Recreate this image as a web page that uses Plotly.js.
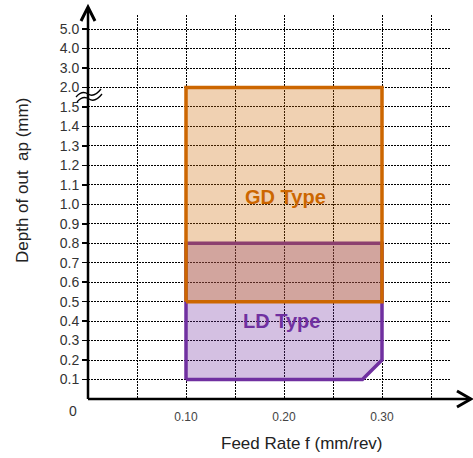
<!DOCTYPE html>
<html>
<head>
<meta charset="utf-8">
<script src="https://cdn.plot.ly/plotly-3.0.1.min.js"></script>
<style>html,body{margin:0;padding:0;background:#fff;}#chart{width:473px;height:458px;}</style>
</head>
<body>
<div id="chart"></div>
<script>
// ---- data ----
const yTickValues = [0.1,0.2,0.3,0.4,0.5,0.6,0.7,0.8,0.9,1.0,1.1,1.2,1.3,1.4,1.5,2.0,3.0,4.0,5.0];
const yTickLabels = ["0.1","0.2","0.3","0.4","0.5","0.6","0.7","0.8","0.9","1.0","1.1","1.2","1.3","1.4","1.5","2.0","3.0","4.0","5.0"];
const xTickValues = [0.05,0.10,0.15,0.20,0.25,0.30,0.35];
const xTickLabels = ["","0.10","","0.20","","0.30",""];
const ldFeed  = [0.10, 0.28, 0.30, 0.30, 0.10, 0.10];
const ldDepth = [0.1,  0.1,  0.2,  0.8,  0.8,  0.1];
const gdFeed  = [0.10, 0.30, 0.30, 0.10, 0.10];
const gdDepth = [0.5,  0.5,  2.0,  2.0,  0.5];

// broken y scale: each tick is one equal step
const tickPos = yTickValues.map((v,i)=>i+1);
function depthToPos(v){
  const vals=[0].concat(yTickValues), pos=[0].concat(tickPos);
  for(let i=0;i<vals.length-1;i++){
    if(v>=vals[i] && v<=vals[i+1]) return pos[i]+(v-vals[i])/(vals[i+1]-vals[i])*(pos[i+1]-pos[i]);
  }
  return pos[pos.length-1];
}

// ---- geometry helpers (pixel -> paper) ----
const L=88, R=450, T=15, B=399, PW=R-L, PH=B-T;
const XR=PW/980, YR=PH/19.47;
const fx = p => (p-L)/PW, fy = p => (B-p)/PH;
function pathPx(cmds){
  return cmds.map(c=>{ let s=c[0]; for(let i=1;i<c.length;i+=2){ s+=' '+fx(c[i]).toFixed(5)+','+fy(c[i+1]).toFixed(5);} return s;}).join(' ');
}

const purple='#7030A0', orange='#CC6600';
const FONT='"Liberation Sans", Arial, sans-serif';

const traces = [
  {x: ldFeed, y: ldDepth.map(depthToPos), type:'scatter', mode:'lines', fill:'toself',
   fillcolor:'rgba(112,48,160,0.3)', line:{color:purple, width:3.5}, hoverinfo:'skip', showlegend:false},
  {x: gdFeed, y: gdDepth.map(depthToPos), type:'scatter', mode:'lines', fill:'toself',
   fillcolor:'rgba(204,102,0,0.3)', line:{color:orange, width:3.5}, hoverinfo:'skip', showlegend:false}
];

const shapes = [
  {type:'line', xref:'paper', yref:'paper', x0:0, x1:0, y0:0, y1:fy(8), line:{color:'#000', width:2.5}},
  {type:'line', xref:'paper', yref:'paper', x0:0, x1:fx(469), y0:0, y1:0, line:{color:'#000', width:2.5}},
  {type:'path', xref:'paper', yref:'paper', path:pathPx([['M',81,21],['L',88,7],['L',95,21]]), line:{color:'#000', width:3}},
  {type:'path', xref:'paper', yref:'paper', path:pathPx([['M',457,391],['L',471,399],['L',457,407]]), line:{color:'#000', width:3}},
  {type:'path', xref:'paper', yref:'paper', path:pathPx([['M',76,97],['Q',82,90,88,94],['T',101,89]]), line:{color:'#000', width:1.3}},
  {type:'path', xref:'paper', yref:'paper', path:pathPx([['M',77,102],['Q',83,95,89,99],['T',102,94]]), line:{color:'#000', width:1.3}}
];

const C = {xanchor:'center', yanchor:'middle', showarrow:false};
const annotations = [
  Object.assign({xref:'x', yref:'y', x:fx(285)*XR, y:(B-197)/19.47, text:'<b>GD Type</b>',
   font:{family:FONT, size:20, color:orange}}, C),
  Object.assign({xref:'x', yref:'y', x:fx(281)*XR, y:(B-321)/19.47, text:'<b>LD Type</b>',
   font:{family:FONT, size:20, color:purple}}, C),
  Object.assign({xref:'paper', yref:'paper', x:fx(72.5), y:fy(411), text:'0', font:{family:FONT, size:14, color:'#333'}}, C),
  Object.assign({xref:'paper', yref:'paper', x:fx(302), y:fy(443), text:'Feed Rate f (mm/rev)', font:{family:FONT, size:17, color:'#222'}}, C),
  Object.assign({xref:'paper', yref:'paper', x:fx(22), y:fy(181), text:'Depth of out \u00a0ap (mm)', textangle:-90, font:{family:FONT, size:17, color:'#222'}}, C)
];

const layout = {
  width:473, height:458,
  margin:{l:L, r:473-R, t:T, b:458-B, pad:0},
  paper_bgcolor:'#fff', plot_bgcolor:'#fff',
  font:{family:FONT},
  xaxis:{range:[0, XR], tickmode:'array', tickvals:xTickValues, ticktext:xTickLabels,
    showgrid:true, gridcolor:'#000', gridwidth:1, griddash:'2px,1px', zeroline:false, showline:false,
    ticks:'', tickfont:{family:FONT, size:12, color:'#444'}, ticklabelstandoff:9, fixedrange:true},
  yaxis:{range:[0, YR], tickmode:'array', tickvals:tickPos, ticktext:yTickLabels,
    showgrid:true, gridcolor:'#000', gridwidth:1, griddash:'2px,1px', zeroline:false, showline:false,
    ticks:'outside', ticklen:5, tickwidth:1.5, tickcolor:'#000', tickfont:{family:FONT, size:14, color:'#333'}, fixedrange:true},
  shapes:shapes, annotations:annotations, showlegend:false
};

Plotly.newPlot('chart', traces, layout, {staticPlot:true, displayModeBar:false});
</script>
</body>
</html>
